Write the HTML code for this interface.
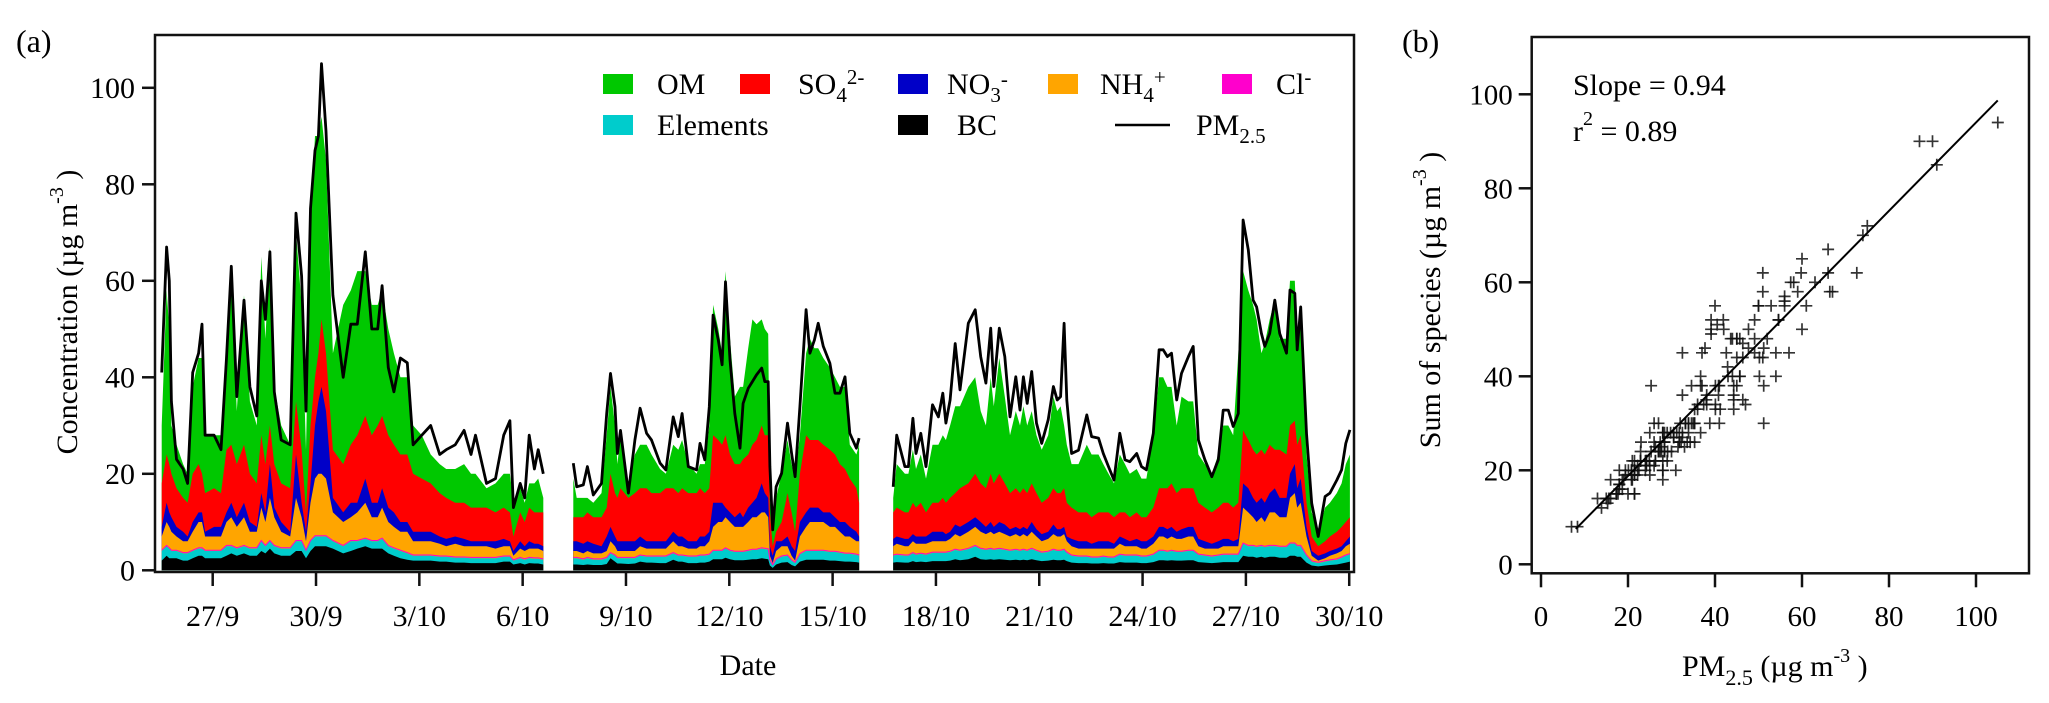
<!DOCTYPE html>
<html><head><meta charset="utf-8">
<style>
html,body{margin:0;padding:0;background:#fff;}
svg{display:block;font-family:"Liberation Serif","DejaVu Serif",serif;}
</style></head>
<body>
<svg id="fig" width="2049" height="703" viewBox="0 0 2049 703" xmlns="http://www.w3.org/2000/svg">
<rect x="0" y="0" width="2049" height="703" fill="#fff"/>
<text x="16" y="52" font-size="32">(a)</text>
<text x="1402" y="52" font-size="32">(b)</text>
<g id="chartA"></g>
<g id="chartB"></g>
</svg>
<script>
// ---- Panel (a) data: days since 27/9 00:00 ----
const days = [-1.48,-1.34,-1.26,-1.2,-1.05,-0.86,-0.73,-0.58,-0.41,-0.31,-0.22,0.04,0.24,0.4,0.54,0.7,0.91,1.08,1.28,1.41,1.53,1.66,1.79,1.99,2.25,2.42,2.58,2.71,2.84,2.97,3.07,3.16,3.29,3.49,3.79,4.01,4.2,4.43,4.62,4.79,4.92,5.1,5.26,5.45,5.65,5.82,6.07,6.33,6.59,6.78,7.04,7.3,7.5,7.63,7.95,8.21,8.45,8.63,8.73,8.93,9.06,9.19,9.34,9.45,9.6,
10.47,10.57,10.76,10.88,11.05,11.29,11.44,11.55,11.68,11.75,11.84,12.07,12.26,12.41,12.6,12.74,12.99,13.16,13.37,13.52,13.63,13.81,14.05,14.15,14.29,14.42,14.53,14.68,14.79,14.89,15.02,15.16,15.31,15.4,15.55,15.67,15.79,15.94,16.03,16.13,16.18,16.26,16.36,16.52,16.69,16.81,16.91,17.05,17.23,17.34,17.47,17.58,17.73,17.92,18.07,18.21,18.36,18.5,18.69,18.77,
19.76,19.86,20.1,20.2,20.33,20.42,20.56,20.71,20.9,21.07,21.2,21.29,21.41,21.56,21.7,21.94,22.14,22.3,22.45,22.59,22.68,22.84,23,23.15,23.32,23.44,23.54,23.65,23.78,23.92,24.07,24.26,24.41,24.52,24.62,24.72,24.8,24.94,25.14,25.38,25.52,25.72,25.86,26.01,26.17,26.34,26.49,26.63,26.83,26.97,27.11,27.31,27.48,27.6,27.72,27.84,27.99,28.13,28.33,28.47,28.62,28.81,29.01,29.2,29.34,29.49,29.63,29.78,29.92,30.07,30.21,30.31,30.45,30.55,30.69,30.84,30.98,31.18,31.28,31.42,31.49,31.59,31.76,31.91,32.1,32.3,32.44,32.64,32.78,32.9,33.02];
const pm25 = [41,67,60,35,23,21,18,41,45,51,28,28,25,44,63,36,56,38,32,60,52,66,37,27,26,74,61,33,75,87,90,105,91,57,40,51,51,66,50,50,59,42,37,44,43,26,28,30,24,25,26,29,24,28,18,19,28,31,13,18,15,28,21,25,20,
22.2,17.3,17.7,21.5,15.6,18,32.5,40.8,33.9,24.2,29,16,27,33.6,28.4,27,22.2,20.8,31.8,27.7,32.5,21.5,20.8,26.3,22.9,33.9,52.9,47.7,42.6,59.8,43.6,32.5,25.3,34.6,37.7,39.1,40.5,41.9,39.1,39.1,21.5,8.4,17.3,20.1,30.5,24.2,19.4,33.9,54,45,47.7,51.2,46.4,42.9,36.7,36.7,40.1,28.4,25.3,27.4,
17.3,28,21.5,21.5,31.5,24.2,28.4,21.5,34.3,31.8,36.7,30.5,35.3,47,37.4,51.2,54,44.3,38.8,50.2,38.1,50.2,44.3,31.8,40.1,33.2,40.1,34.6,41.2,30.5,26.3,31.2,38.1,35.3,36,51.2,35.3,24.2,24.9,32.2,27.7,27.4,24.2,21.5,18.7,28.4,22.9,22.5,24.2,21.5,20.8,28.4,45.7,45.7,44.3,45,35.3,40.8,44.3,46.4,27,22.9,19.4,22.9,33.2,33.2,29.8,32.5,72.6,66.4,56,54.6,49.1,46.4,49.1,56,49.1,45,58.1,57.4,45.7,54.6,28.4,13.9,7,15.3,16,18.7,20.8,26.3,29.1];
// cumulative stack tops (bottom -> top)
const topBC = [2,3,2.5,2.5,2.5,2,2,2.5,3,3,2.5,2.5,2.5,3,3.5,3,3.5,3,3,4,3.5,4.5,3.5,3,3,4,4,2.5,4,5,5,5,5,4.5,3.5,4,4.5,5,4.5,4.5,4.5,3.5,3,2.5,2.2,2,2,2,1.8,1.8,1.6,1.6,1.5,1.5,1.5,1.5,1.8,1.8,1.2,1.5,1.2,1.5,1.4,1.4,1.2,
1.2,1.2,1.1,1.2,1.1,1.1,1.3,2.5,1.8,1.4,1.4,1.3,1.4,1.8,1.6,1.6,1.5,1.5,2.2,1.8,1.8,1.5,1.5,1.6,1.6,1.8,2.3,2.3,2.3,2.6,2.3,2.1,2.1,2.1,2.2,2.3,2.3,2.5,2.4,2.3,1,0.5,1.2,1.6,1.7,1.1,0.8,1.8,2.2,2.2,2.2,2.2,2.2,2,2,1.9,1.8,1.8,1.7,1.6,
1.6,1.7,1.6,1.6,1.9,1.7,1.8,1.7,1.9,1.9,1.9,1.9,2,2.3,2.1,2.3,2.8,2.3,2.2,2.3,2.2,2.3,2.2,2.1,2.2,2.1,2.2,2.1,2.3,2.1,1.9,2,2.2,2.1,2.1,2.2,1.9,1.6,1.5,1.5,1.4,1.4,1.5,1.4,1.4,1.7,1.6,1.6,1.6,1.5,1.5,1.7,2.1,2.1,2,2.1,2,2,2.1,2.1,1.7,1.6,1.5,1.6,1.7,1.7,1.7,1.7,3,2.8,2.8,2.6,2.8,2.6,2.8,2.8,2.6,2.6,3,3,2.8,2.8,1.6,1,0.8,1,1.1,1.2,1.4,1.6,1.8];
const topElements = [4,5,4.5,4,4,3.5,3.5,4,4.5,4.5,4,4,4,5,5,4.5,5,4.5,4.5,6,5,6,5,4.5,4.5,6,6,4,6,7,7,7,7,6,5,6,6,6.5,6,6,6.5,5,4.5,4,3.5,3,3,3,2.8,2.8,2.6,2.6,2.5,2.5,2.5,2.5,2.8,2.8,2,2.5,2.2,2.5,2.4,2.4,2.2,
2.5,2.5,2.2,2.5,2.2,2.2,2.5,3.5,3,2.5,2.5,2.5,2.5,3,2.8,2.8,2.8,2.8,3.5,3,3,2.8,2.8,3,3,3.2,4,4,4,4.5,4,3.8,3.8,3.8,4,4.2,4.2,4.5,4.4,4.3,2,1,2.2,2.8,3,2,1.5,3.3,4,4,4,4,4,3.8,3.8,3.6,3.4,3.4,3.2,3,
3,3.2,3,3,3.5,3.2,3.4,3.2,3.6,3.6,3.6,3.6,3.8,4.2,4,4.4,5,4.4,4.2,4.4,4.2,4.4,4.2,4,4.2,4,4.2,4,4.4,4,3.6,3.8,4.2,4,4,4.2,3.6,3,2.8,2.8,2.6,2.6,2.8,2.6,2.6,3.2,3,3,3,2.8,2.8,3.2,4,4,3.8,4,3.8,3.8,4,4,3.2,3,2.8,3,3.2,3.2,3.2,3.2,5.5,5,5,4.8,5,4.8,5,5,4.8,4.8,5.5,5.5,5,5,3,1.8,1.5,1.8,2,2.2,2.6,3,3.3];
const topNH4 = [7,10,9,8,7,6,6,8,10,10,7,7,7,10,11,9,11,8,8,13,10,15,11,8,7,15,11,6,14,19,20,20,19,12,10,11,12,14,11,11,13,10,9,8,8,6,6,6,5.5,5,5.5,5,5,5,5,4.5,5,5,3,4.5,4,4.5,4.5,4.5,4,
4,4,3.5,4,3.5,3.5,4,6,5,4,4,4,4,5,4.5,4.5,4.5,4.5,6,5,5,4.5,4.5,5,5,6,9,10,10,11,10,9,9,9,10,11,11,12,12,11,3,1.5,4,5,5,3,2,7,9,10,10,10,10,9,9,8,7,7,6,6,
5,5.5,5,5,6,5.5,5.5,5.5,6,6,6,6,6.5,7.5,7,8,9,8,7.5,8,7.5,8,7.5,7,7.5,7,7.5,7,8,7,6,6.5,7.5,7,7,7.5,6,5,4.5,4.5,4.5,4.5,4.5,4.5,4.5,5.5,5,5,5,4.5,4.5,5.5,7,7,6.5,7,6.5,6.5,7,7,5,4.5,4.5,4.5,5,5,5,5,13,12,11,10,11,10,12,12,11,11,15,16,13,14,7,3,2,2.5,3,3.5,4,5,5.5];
const topNO3 = [9,14,12,11,9,8,7,10,12,12,8,9,9,12,14,11,14,10,9,16,12,22,13,10,8,24,14,8,18,30,35,38,33,15,12,14,14,19,14,14,17,13,12,10,10,8,8,8,7,6.5,7,6.5,6,6,6,6,6.5,6,4,6,5,6,5.5,5.5,5,
6,6,5.5,6,5.5,5,7,9,7,6,6,6,6,7,6,6,6,6,8,7,7,6,6,7,7,8,14,14,14,13,12,11,12,11,13,14,15,18,16,15,5,3,6,6,7,5,4,10,12,13,13,13,12,12,11,10,10,9,8,7,
6.5,7,6.5,6.5,7.5,7,7,7,8,8,8,7.5,8,9.5,9,10,11,10,9,10,9,10,9.5,8.5,9,8.5,9,8.5,10,8.5,7.5,8,9.5,8.5,8.5,9,7,6.5,6,6,5.5,6,6,6,5.5,7,6.5,6,6.5,6,6,7,9,9,8.5,9,8,8.5,9,9,6.5,6,5.5,6,6.5,6.5,6,6.5,18,17,15,14,15,14,16,17,15,15,20,22,17,19,9,4,3,3.5,4,4.5,5,6,7];
const topSO4 = [18,24,22,20,17,15,14,20,22,20,16,17,16,25,26,22,26,20,18,28,22,30,22,18,17,35,25,12,30,40,45,52,45,25,22,26,28,32,28,30,32,28,26,24,24,20,19,18,16,15,14,14,13,13,13,12,13,12,7,12,10,13,12,12,12,
11,11,11,12,11,11,13,20,16,15,17,15,16,17,17,16,16,17,17,16,17,16,16,17,16,17,28,27,26,28,24,22,22,23,24,26,27,30,28,28,12,5,8,10,16,12,8,20,28,27,27,27,26,25,24,22,21,19,17,14,
12,13,12,12,14,13,14,12,14,14,15,14,15,16,17,18,20,18,17,20,18,20,18,16,17,16,17,16,18,16,14,15,17,16,16,17,14,13,12,12,11,12,12,12,11,12,12,11,12,11,11,13,17,17,17,18,16,17,17,17,14,13,12,13,14,14,13,14,29,27,25,24,25,24,26,25,25,24,30,31,26,28,14,7,5,6,7,8,9,10,11];
const topOM = [30,58,50,30,26,22,20,38,44,44,28,28,28,48,60,33,57,35,30,65,48,67,38,30,26,70,55,25,72,90,90,94,85,45,55,58,62,62,55,55,58,50,45,40,40,30,28,24,22,21,21,22,20,20,17,18,20,20,14,17,14,18,18,19,15,
19,15,15,15,14,16,28,38,30,22,28,18,24,26,26,24,21,20,26,25,27,22,20,22,22,30,55,50,45,62,48,36,38,38,46,52,51,52,50,49,15,8,15,20,27,22,19,28,45,48,46,46,44,42,40,38,38,26,24,26,
15,22,20,20,25,21,24,19,26,26,28,27,30,34,34,38,40,33,30,40,34,44,36,28,33,30,34,30,33,28,25,28,36,33,34,30,26,22,22,26,24,24,22,20,18,24,22,20,21,19,19,28,40,40,38,38,30,36,35,35,24,22,20,24,30,30,28,45,62,58,55,52,45,47,52,56,48,48,60,60,48,52,24,12,8,13,14,16,18,22,24];
const yTicksA = [0,20,40,60,80,100];
const dateLabels = ["27/9","30/9","3/10","6/10","9/10","12/10","15/10","18/10","21/10","24/10","27/10","30/10"];
const dateTickDays = [0,3,6,9,12,15,18,21,24,27,30,33];

// ---- Panel (b) data ----
const fitSlope = [0.94];
const fitIntercept = [0.0];
const fitRange = [8, 105];
const xTicksB = [0,20,40,60,80,100];
const yTicksB = [0,20,40,60,80,100];

const NS = "http://www.w3.org/2000/svg";
function mk(tag, attrs, parent){const e=document.createElementNS(NS,tag);for(const k in attrs)e.setAttribute(k,attrs[k]);parent.appendChild(e);return e;}

// ---------- Panel (a) ----------
const gA = document.getElementById('chartA');
const A = {l:155,r:1354,t:35,b:572};
const xA = d => 212.7 + 34.44*d;
const yA = v => 570.3 - 4.825*v;

const segs=[]; let cur=[0];
for(let i=1;i<days.length;i++){ if(days[i]-days[i-1]>0.5){segs.push(cur);cur=[];} cur.push(i); }
segs.push(cur);

const layers = [
 {arr:topOM, color:'#00c800', name:'om-area'},
 {arr:topSO4, color:'#ff0000', name:'so4-area'},
 {arr:topNO3, color:'#0000c8', name:'no3-area'},
 {arr:topNH4, color:'#ffa500', name:'nh4-area'},
 {arr:topElements, color:'#00cccc', name:'elements-area'},
 {arr:topBC, color:'#000000', name:'bc-area'}
];
const order=[topBC,topElements,topNH4,topNO3,topSO4,topOM];
function stackTop(arrIdx,i){let m=0;for(let k=0;k<=arrIdx;k++)m=Math.max(m,order[k][i]);return m;}
layers.forEach(L=>{
  const idx=order.indexOf(L.arr);
  segs.forEach(s=>{
    let d='M'+xA(days[s[0]]).toFixed(1)+','+yA(0).toFixed(1);
    s.forEach(i=>{d+=' L'+xA(days[i]).toFixed(1)+','+yA(stackTop(idx,i)).toFixed(1);});
    d+=' L'+xA(days[s[s.length-1]]).toFixed(1)+','+yA(0).toFixed(1)+' Z';
    const p=mk('path',{d:d,fill:L.color,stroke:'none'},gA);
    
    
  });
});
segs.forEach(s=>{
  let d='';
  s.forEach((i,j)=>{d+=(j?' L':'M')+xA(days[i]).toFixed(1)+','+(yA(stackTop(1,i))-0.8).toFixed(1);});
  const p=mk('path',{d:d,fill:'none',stroke:'#ff00cc','stroke-width':1},gA);
  
  
});
segs.forEach(s=>{
  let d='';
  s.forEach((i,j)=>{d+=(j?' L':'M')+xA(days[i]).toFixed(1)+','+yA(pm25[i]).toFixed(1);});
  const p=mk('path',{d:d,fill:'none',stroke:'#000','stroke-width':2.8,'stroke-linejoin':'round'},gA);
  
  
});
const fr=mk('rect',{x:A.l,y:A.t,width:A.r-A.l,height:A.b-A.t,fill:'none',stroke:'#111','stroke-width':2.5},gA);


yTicksA.forEach(v=>{
  mk('line',{x1:A.l-13,x2:A.l,y1:yA(v),y2:yA(v),stroke:'#111','stroke-width':2.5},gA);
  const t=mk('text',{x:A.l-20,y:yA(v)+10,'font-size':30,'text-anchor':'end'},gA);
  t.textContent=v;
  
  
});
dateTickDays.forEach((d,i)=>{
  mk('line',{x1:xA(d),x2:xA(d),y1:A.b,y2:A.b+14,stroke:'#111','stroke-width':2.5},gA);
  const t=mk('text',{x:xA(d),y:626,'font-size':30,'text-anchor':'middle'},gA);
  t.textContent=dateLabels[i];
  
  
});
const xt=mk('text',{x:748,y:675,'font-size':30,'text-anchor':'middle'},gA);
xt.textContent='Date';


const yt=mk('text',{x:0,y:0,'font-size':30,'text-anchor':'middle',transform:'translate(77,312) rotate(-90)'},gA);
yt.innerHTML='Concentration (µg m<tspan dy="-14" font-size="20">-3</tspan><tspan dy="14"> )</tspan>';



const legItems=[
 {x:603,y:74,c:'#00c800',tx:657,html:'OM',n:'legend-om'},
 {x:740,y:74,c:'#ff0000',tx:798,html:'SO<tspan dy="8" font-size="21">4</tspan><tspan dy="-18" font-size="21">2-</tspan>',n:'legend-so4'},
 {x:898,y:74,c:'#0000c8',tx:947,html:'NO<tspan dy="8" font-size="21">3</tspan><tspan dy="-16" font-size="21">-</tspan>',n:'legend-no3'},
 {x:1048,y:74,c:'#ffa500',tx:1100,html:'NH<tspan dy="8" font-size="21">4</tspan><tspan dy="-18" font-size="21">+</tspan>',n:'legend-nh4'},
 {x:1222,y:74,c:'#ff00cc',tx:1276,html:'Cl<tspan dy="-10" font-size="21">-</tspan>',n:'legend-cl'},
 {x:603,y:115,c:'#00cccc',tx:657,html:'Elements',n:'legend-elements'},
 {x:898,y:115,c:'#000000',tx:957,html:'BC',n:'legend-bc'}
];
legItems.forEach(L=>{
  const g=mk('g',{},gA);
  
  
  mk('rect',{x:L.x,y:L.y,width:30,height:20,fill:L.c},g);
  const t=mk('text',{x:L.tx,y:L.y+20,'font-size':30},g);
  t.innerHTML=L.html;
});
const gpm=mk('g',{},gA);


mk('line',{x1:1115,x2:1170,y1:125,y2:125,stroke:'#000','stroke-width':2.6},gpm);
const tpm=mk('text',{x:1196,y:135,'font-size':30},gpm);
tpm.innerHTML='PM<tspan dy="8" font-size="21">2.5</tspan>';

// ---------- Panel (b) ----------
const gB=document.getElementById('chartB');
const B={l:1531.7,r:2029,t:37,b:573.3};
const xB=v=>1541+4.35*v;
const yB=v=>564.3-4.7*v;
days.forEach((d,i)=>{
  const px=xB(pm25[i]), py=yB(stackTop(5,i));
  const p=mk('path',{d:`M${(px-6).toFixed(1)},${py.toFixed(1)} h12 M${px.toFixed(1)},${(py-6).toFixed(1)} v12`,stroke:'#111','stroke-width':1.7,'stroke-opacity':0.85,fill:'none'},gB);
  
  
});
const fl=mk('line',{x1:xB(fitRange[0]),y1:yB(fitSlope[0]*fitRange[0]+fitIntercept[0]),x2:xB(fitRange[1]),y2:yB(fitSlope[0]*fitRange[1]+fitIntercept[0]),stroke:'#000','stroke-width':2},gB);


const frb=mk('rect',{x:B.l,y:B.t,width:B.r-B.l,height:B.b-B.t,fill:'none',stroke:'#111','stroke-width':2.5},gB);


yTicksB.forEach(v=>{
  mk('line',{x1:B.l-13,x2:B.l,y1:yB(v),y2:yB(v),stroke:'#111','stroke-width':2.5},gB);
  const t=mk('text',{x:B.l-19,y:yB(v)+10,'font-size':29,'text-anchor':'end'},gB);
  t.textContent=v;
  
  
});
xTicksB.forEach(v=>{
  mk('line',{x1:xB(v),x2:xB(v),y1:B.b,y2:B.b+14,stroke:'#111','stroke-width':2.5},gB);
  const t=mk('text',{x:xB(v),y:626,'font-size':29,'text-anchor':'middle'},gB);
  t.textContent=v;
  
  
});
const xbt=mk('text',{x:1682,y:676,'font-size':30},gB);
xbt.innerHTML='PM<tspan dy="9" font-size="22">2.5</tspan><tspan dy="-9"> (µg m</tspan><tspan dy="-14" font-size="20">-3</tspan><tspan dy="14"> )</tspan>';


const ybt=mk('text',{x:0,y:0,'font-size':30,'text-anchor':'middle',transform:'translate(1440,300) rotate(-90)'},gB);
ybt.innerHTML='Sum of species (µg m<tspan dy="-14" font-size="20">-3</tspan><tspan dy="14"> )</tspan>';


const st=mk('text',{x:1573,y:95,'font-size':30},gB);
st.textContent='Slope = 0.94';


const rt=mk('text',{x:1573,y:141,'font-size':30},gB);
rt.innerHTML='r<tspan dy="-16" font-size="20">2</tspan><tspan dy="16"> = 0.89</tspan>';


</script>
</body></html>
